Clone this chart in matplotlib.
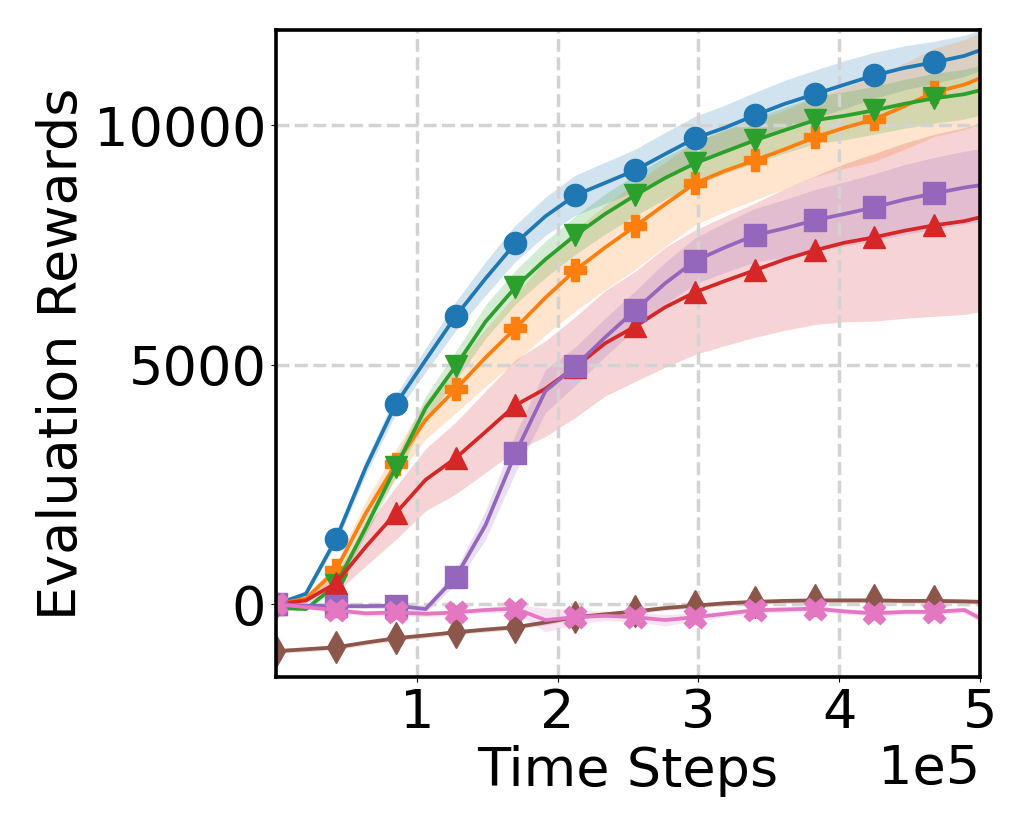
#Evaluation rewards of seven methods over training time steps
import matplotlib
matplotlib.use('Agg')
import matplotlib.pyplot as plt
import numpy as np

#Time steps (marker every second point)
steps = np.append(np.arange(24) * 21250, 500000)

#Mean curves
blue_mean = [0, 220, 1357, 2860, 4176, 5100, 6013, 6800, 7538, 8100, 8540, 8800, 9062,
             9400, 9730, 9950, 10210, 10450, 10650, 10850, 11045, 11200, 11317, 11450, 11568]
orange_mean = [0, 120, 710, 1900, 2923, 3850, 4490, 5150, 5763, 6400, 6974, 7450, 7893,
               8350, 8790, 9050, 9270, 9500, 9750, 9950, 10127, 10400, 10690, 10850, 10983]
green_mean = [-80, -100, 400, 1600, 2860, 4100, 4970, 5900, 6620, 7200, 7705, 8150, 8540,
              8900, 9208, 9450, 9688, 9900, 10106, 10200, 10315, 10450, 10565, 10650, 10732]
red_mean = [0, 80, 440, 1200, 1900, 2600, 3050, 3600, 4155, 4500, 4950, 5450, 5800,
            6200, 6515, 6750, 6974, 7200, 7390, 7550, 7663, 7800, 7913, 8000, 8080]
purple_mean = [0, -30, -40, -40, -30, -100, 560, 1650, 3150, 4450, 4970, 5575, 6140,
               6700, 7170, 7450, 7705, 7850, 8018, 8150, 8290, 8450, 8580, 8700, 8750]
brown_mean = [-980, -940, -900, -800, -710, -650, -585, -530, -480, -380, -270, -210, -150,
              -80, -30, 20, 50, 70, 80, 80, 80, 70, 70, 60, 50]
pink_mean = [0, -60, -125, -190, -170, -200, -170, -120, -90, -330, -270, -240, -270,
             -330, -270, -200, -125, -110, -90, -150, -190, -160, -160, -120, -290]

#Spread of the shaded bands
blue_std = [0, 50, 100, 150, 200, 250, 300, 350, 380, 400, 420, 430, 440,
            450, 460, 470, 480, 490, 500, 500, 480, 460, 440, 430, 420]
orange_std = [0, 50, 150, 250, 300, 400, 500, 600, 700, 780, 850, 880, 900,
              880, 870, 850, 830, 820, 820, 850, 880, 900, 920, 940, 950]
green_std = [0, 30, 100, 150, 200, 250, 300, 350, 350, 380, 400, 420, 430,
             440, 450, 460, 470, 480, 490, 500, 500, 510, 520, 520, 520]
red_std = [0, 50, 200, 400, 550, 650, 750, 850, 950, 1000, 1050, 1100, 1150,
           1250, 1300, 1350, 1400, 1480, 1550, 1650, 1750, 1830, 1900, 1950, 1970]
purple_std = [30, 30, 40, 50, 60, 80, 150, 300, 400, 450, 400, 400, 400,
              440, 480, 520, 560, 600, 640, 670, 700, 730, 750, 760, 760]
brown_std = [50] * 25
pink_std = [20, 40, 50, 60, 60, 60, 60, 60, 80, 250, 150, 100, 100,
            120, 80, 60, 60, 60, 60, 60, 60, 60, 60, 60, 80]

series = [
    (blue_mean, blue_std, 'tab:blue', 'o'),
    (orange_mean, orange_std, 'tab:orange', 'P'),
    (green_mean, green_std, 'tab:green', 'v'),
    (red_mean, red_std, 'tab:red', '^'),
    (purple_mean, purple_std, 'tab:purple', 's'),
    (brown_mean, brown_std, 'tab:brown', 'd'),
    (pink_mean, pink_std, 'tab:pink', 'X'),
]

fig = plt.figure(figsize=(10.3, 8.3), dpi=100)
ax = fig.add_axes([0.268, 0.184, 0.6835, 0.7795])

for mean, std, color, marker in series:
    mean = np.array(mean, dtype=float)
    std = np.array(std, dtype=float)
    ax.fill_between(steps, mean - std, mean + std, color=color, alpha=0.2, linewidth=0)
    ax.plot(steps, mean, color=color, marker=marker, markersize=16, linewidth=2.7,
            markevery=list(range(0, 23, 2)))

#Axes styling
ax.set_xlim(0, 500000)
ax.set_ylim(-1525, 11985)
ax.set_xticks([100000, 200000, 300000, 400000, 500000])
ax.set_yticks([0, 5000, 10000])
ax.ticklabel_format(axis='x', style='sci', scilimits=(0, 0))
ax.grid(True, linestyle='--', color='lightgray', linewidth=2.5)
for spine in ax.spines.values():
    spine.set_linewidth(2.6)
ax.tick_params(labelsize=39)
ax.xaxis.get_offset_text().set_fontsize(39)
ax.set_xlabel('Time Steps', fontsize=39)
ax.set_ylabel('Evaluation Rewards', fontsize=39)

plt.savefig('out.png', dpi=100)
